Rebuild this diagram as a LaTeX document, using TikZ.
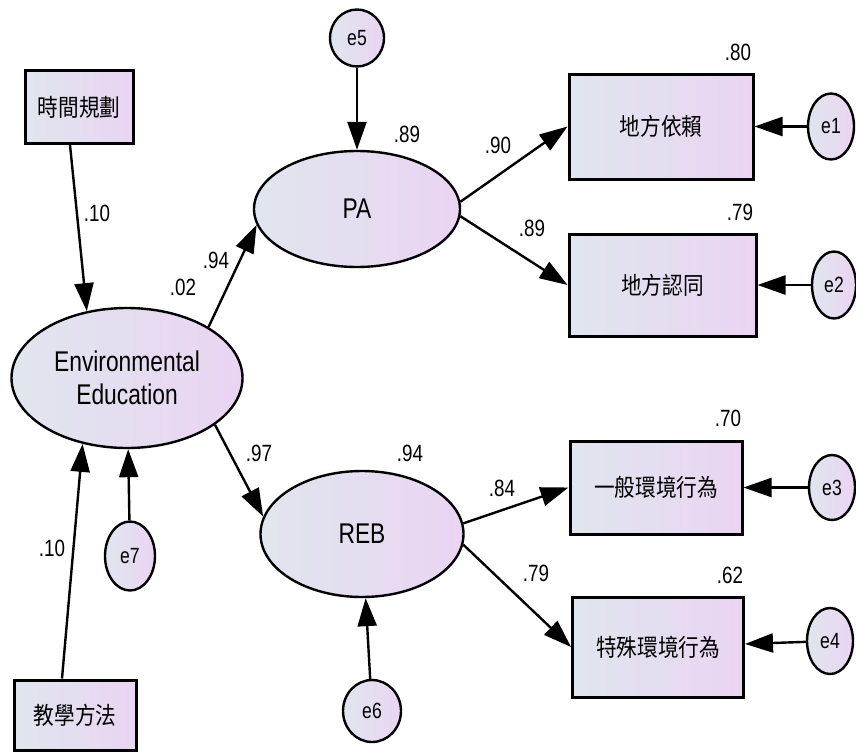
\documentclass[tikz,border=0pt]{standalone}
\usepackage{fontspec}
\setmainfont{Liberation Sans}[FakeStretch=0.8]
\newfontfamily\cjk{Noto Sans CJK TC}[FakeStretch=0.86]
\usetikzlibrary{arrows.meta,shapes.geometric}
\definecolor{fillL}{RGB}{224,230,238}
\definecolor{fillR}{RGB}{234,212,242}
\begin{document}
\begin{tikzpicture}[x=1pt,y=-1pt,
  obsbox/.style={draw=black,line width=3pt,rectangle,inner sep=0pt,left color=fillL,right color=fillR,font=\cjk\fontsize{24}{28}\selectfont},
  latent/.style={draw=black,line width=2.4pt,ellipse,inner sep=0pt,left color=fillL,right color=fillR,font=\fontsize{28.5}{33}\selectfont,align=center},
  errnode/.style={draw=black,line width=2.4pt,ellipse,inner sep=0pt,left color=fillL,right color=fillR,font=\fontsize{22}{25}\selectfont},
  arr/.style={line width=2.4pt,-{Triangle[length=28pt,width=19pt]}},
  lbl/.style={font=\fontsize{23.5}{26}\selectfont,inner sep=0pt}]
\useasboundingbox (0,0) rectangle (856,752);
% observed / exogenous boxes
\node[obsbox,minimum width=108,minimum height=73] (time) at (79,107) {時間規劃};
\node[obsbox,minimum width=122,minimum height=70] (method) at (75,715) {教學方法};
\node[obsbox,minimum width=184,minimum height=105] (pa1) at (661,126.5) {地方依賴};
\node[obsbox,minimum width=187,minimum height=102] (pa2) at (662.5,285) {地方認同};
\node[obsbox,minimum width=172,minimum height=93] (b1) at (656,487.5) {一般環境行為};
\node[obsbox,minimum width=171,minimum height=100] (b2) at (658,647) {特殊環境行為};
% latent
\node[latent,minimum width=231,minimum height=140] (ee) at (127,378) {Environmental\\Education};
\node[latent,minimum width=206,minimum height=116] (pa) at (357,209) {PA};
\node[latent,minimum width=203,minimum height=126] (reb) at (362,534) {REB};
% errors
\node[errnode,minimum width=54,minimum height=57] (e5) at (357,38) {e5};
\node[errnode,minimum width=50,minimum height=69] (e7) at (130,556) {e7};
\node[errnode,minimum width=58,minimum height=62] (e6) at (372,711) {e6};
\node[errnode,minimum width=46,minimum height=66] (e1) at (831,126.5) {e1};
\node[errnode,minimum width=44,minimum height=67] (e2) at (834,285) {e2};
\node[errnode,minimum width=46,minimum height=65] (e3) at (832,487.5) {e3};
\node[errnode,minimum width=46,minimum height=66] (e4) at (830,641) {e4};
% arrows
\draw[arr] ([xshift=-9pt]time.south) -- (ee.121);
\draw[arr] ([xshift=-13pt]method.north) -- (ee.236);
\draw[arr] (e7) -- (ee);
\draw[arr] (ee.32) -- (pa.189);
\draw[arr] (ee.332) -- (reb.170);
\draw[arr] (e5) -- (pa);
\draw[arr] (e6) -- (reb);
\draw[arr] (pa.4) -- (pa1.west);
\draw[arr] (pa.-4) -- (pa2.west);
\draw[arr] (reb.6) -- (b1.west);
\draw[arr] (reb.-6) -- (b2.west);
\draw[arr] (e1) -- (pa1);
\draw[arr] (e2) -- (pa2);
\draw[arr] (e3) -- (b1);
\draw[arr] (e4) -- (b2);
% labels
\node[lbl] (l1) at (97,213) {.10};
\node[lbl] (l2) at (183,287) {.02};
\node[lbl] (l3) at (216,260) {.94};
\node[lbl] (l4) at (407,134) {.89};
\node[lbl] (l5) at (498,145) {.90};
\node[lbl] (l6) at (532,228) {.89};
\node[lbl] (l7) at (738,52) {.80};
\node[lbl] (l8) at (740,212) {.79};
\node[lbl] (l9) at (259,453) {.97};
\node[lbl] (l10) at (410,453) {.94};
\node[lbl] (l11) at (52,548) {.10};
\node[lbl] (l12) at (502,488) {.84};
\node[lbl] (l13) at (536,573) {.79};
\node[lbl] (l14) at (728,418) {.70};
\node[lbl] (l15) at (730,575) {.62};
\end{tikzpicture}
\end{document}
